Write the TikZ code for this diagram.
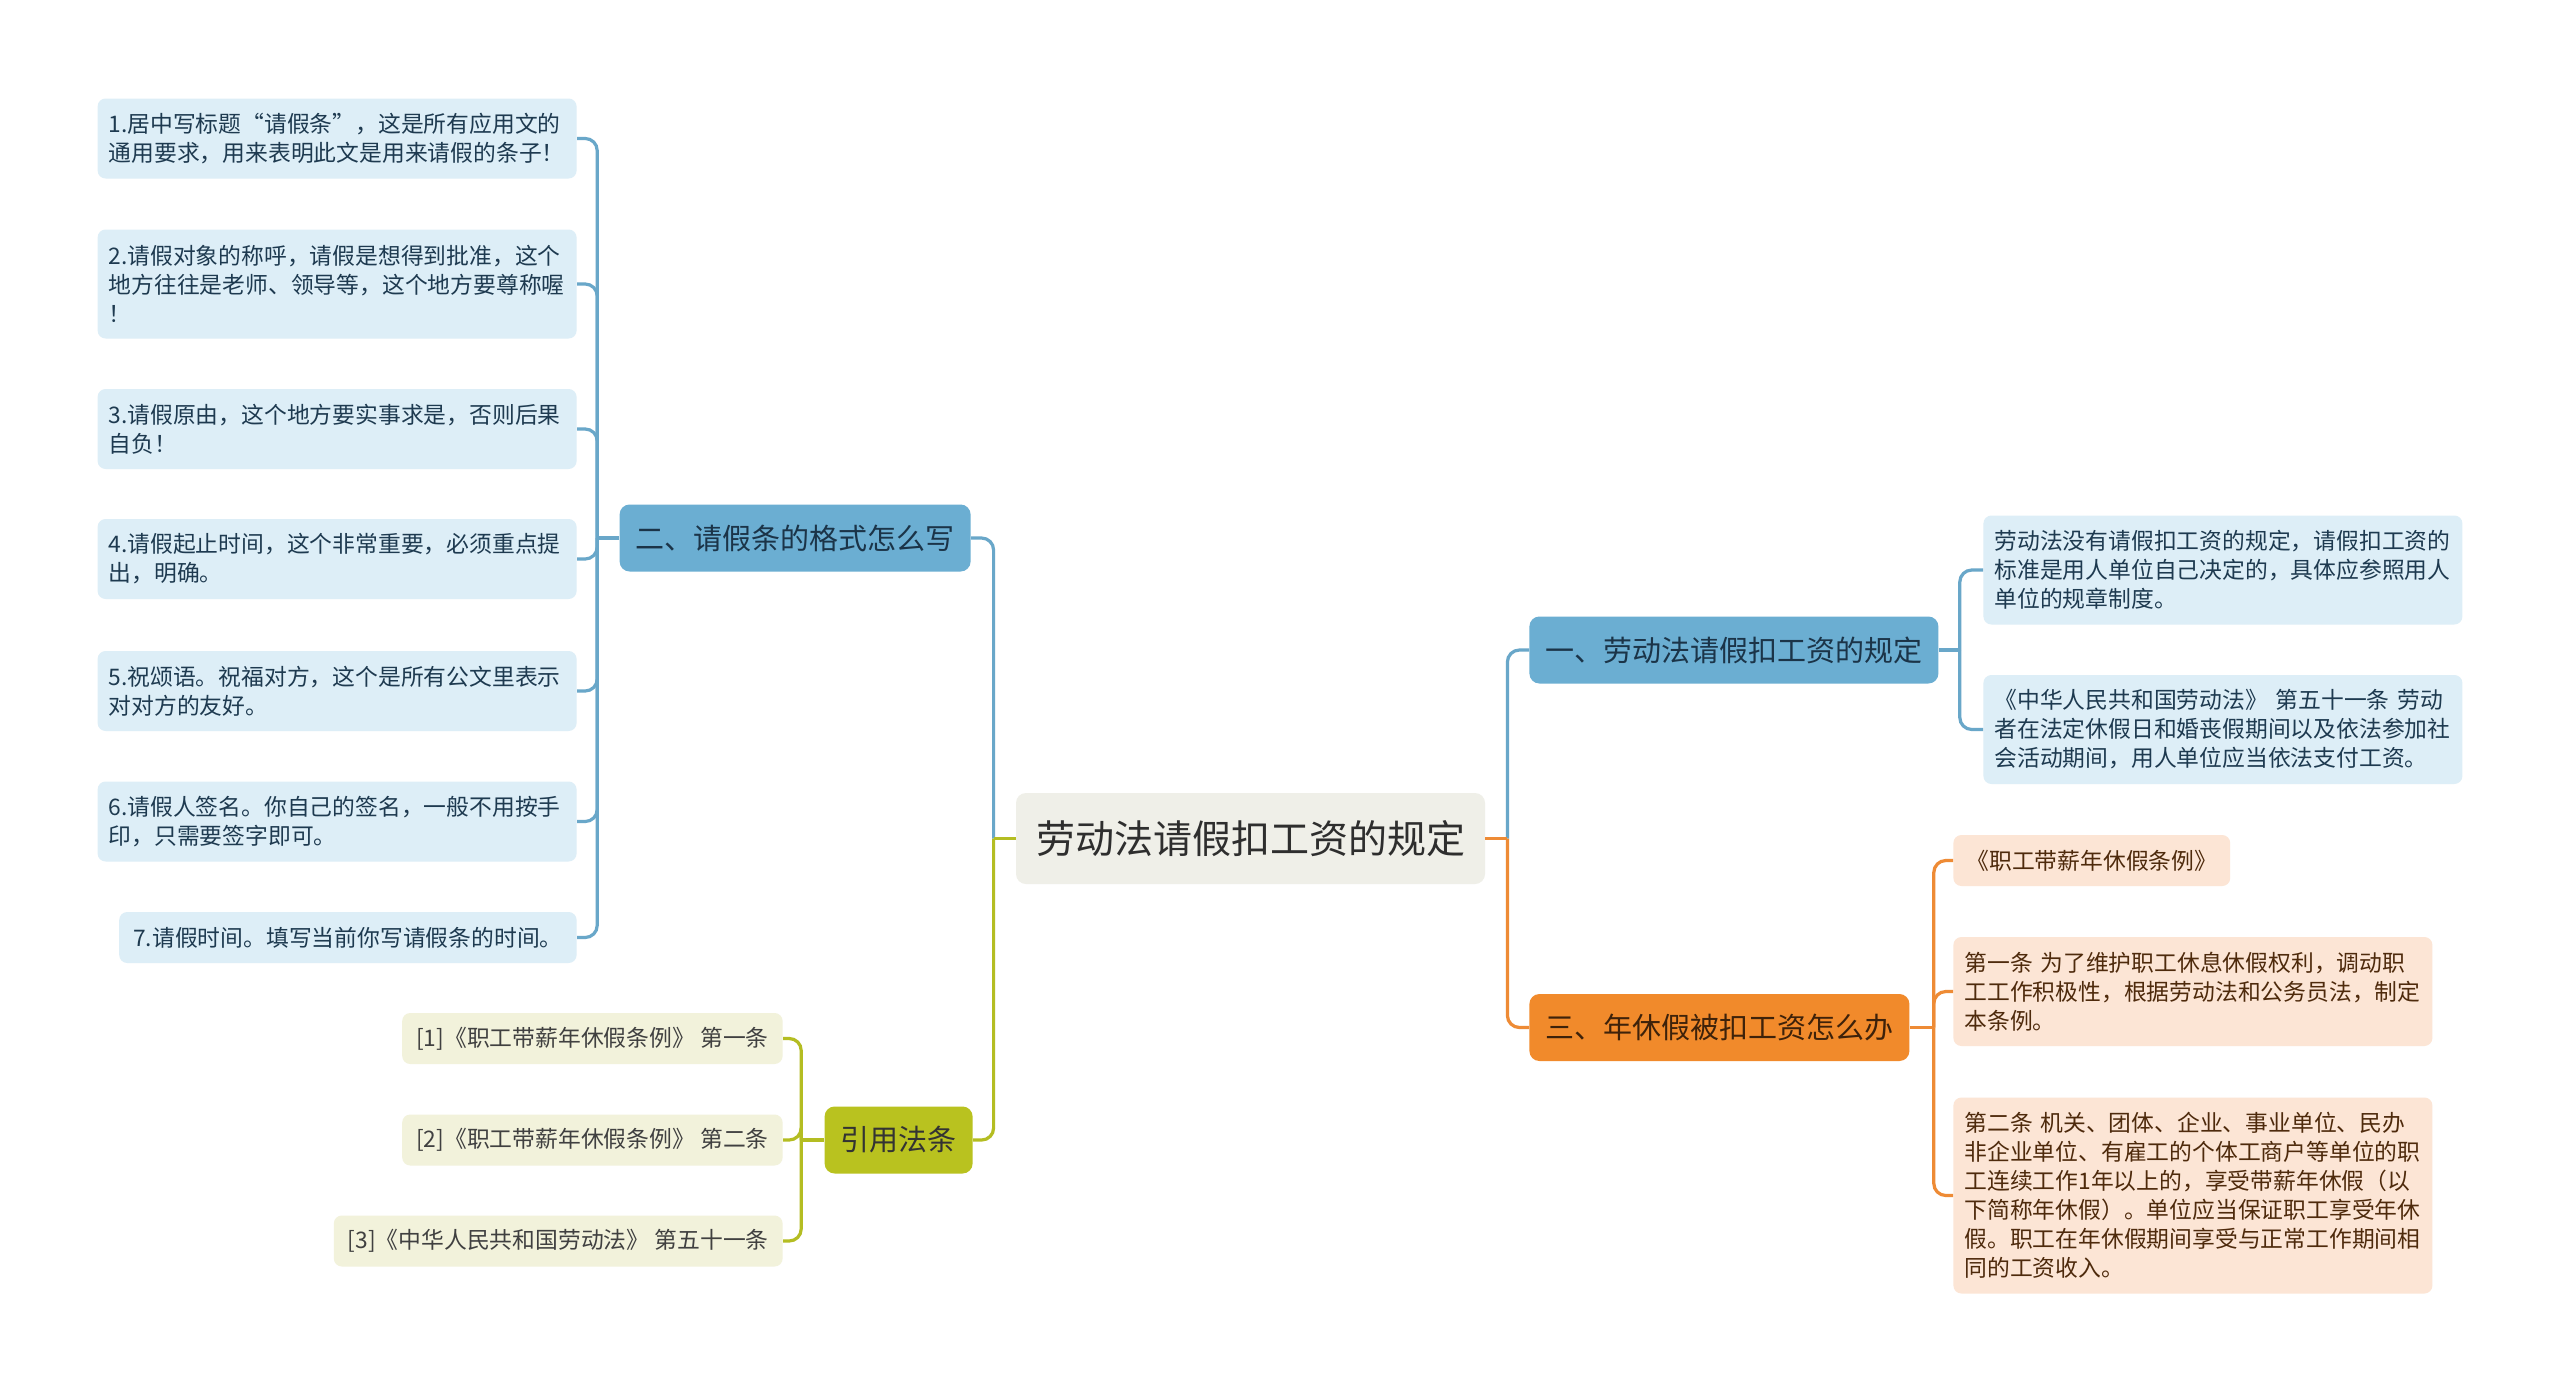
\documentclass[tikz,border=0pt]{standalone}
\usepackage{fontspec}
\setmainfont{Noto Sans CJK SC}
\usepackage{xcolor}
\usetikzlibrary{positioning,calc}

\begin{document}
\begin{tikzpicture}[x=0.5pt,y=-0.5pt,
  box/.style={rounded corners=4pt,inner xsep=5.5pt,inner ysep=2pt,
    font=\fontsize{11.4pt}{14.5pt}\selectfont},
  wide/.style={text width=228.5pt,align=left},
  nl/.style={minimum height={#1*14.5pt+11pt}},
  branch/.style={rounded corners=5pt,inner xsep=8pt,minimum height=33.5pt,
    font=\fontsize{14.5pt}{17pt}\selectfont},
  link/.style={line width=1.6pt,rounded corners=6pt}]
  \definecolor{blbg}{HTML}{DDEEF7}
  \definecolor{bltx}{HTML}{1E3A50}
  \definecolor{blnd}{HTML}{6BAED2}
  \definecolor{blln}{HTML}{69A7C9}
  \definecolor{orbg}{HTML}{FCE5D5}
  \definecolor{ortx}{HTML}{4E2A0C}
  \definecolor{ornd}{HTML}{F18A2B}
  \definecolor{orln}{HTML}{EE8B35}
  \definecolor{grbg}{HTML}{F2F2DB}
  \definecolor{grnd}{HTML}{B9C21F}
  \definecolor{grln}{HTML}{B4BD22}
  \definecolor{rtbg}{HTML}{EFEFE8}
  \useasboundingbox[fill=white] (0,0) rectangle (2560,1393);

  % centre
  \node[rounded corners=5pt,fill=rtbg,text=black!82,inner xsep=10pt,
    minimum height=45.5pt,font=\fontsize{19.5pt}{22pt}\selectfont]
    (root) at (1250.5,838.5) {劳动法请假扣工资的规定};

  % left: format of the note
  \node[branch,fill=blnd,text=bltx!90!black,anchor=east] (n2) at (971,538)
    {二、请假条的格式怎么写};
  \foreach \y/\n/\txt [count=\i] in {
    138.5/2/{1.居中写标题“请假条”，这是所有应用文的\\通用要求，用来表明此文是用来请假的条子！},
    284/3/{2.请假对象的称呼，请假是想得到批准，这个\\地方往往是老师、领导等，这个地方要尊称喔\\！},
    429/2/{3.请假原由，这个地方要实事求是，否则后果\\自负！},
    559/2/{4.请假起止时间，这个非常重要，必须重点提\\出，明确。},
    691/2/{5.祝颂语。祝福对方，这个是所有公文里表示\\对对方的友好。},
    821.5/2/{6.请假人签名。你自己的签名，一般不用按手\\印，只需要签字即可。}} {
    \node[box,wide,nl=\n,fill=blbg,text=bltx,anchor=east] (l\i) at (577,\y) {\txt};
  }
  \node[box,nl=1,fill=blbg,text=bltx,anchor=east,inner xsep=7pt] (l7) at (577,937.5)
    {7.请假时间。填写当前你写请假条的时间。};

  % left: cited articles
  \node[branch,fill=grnd,text=black!80,anchor=east] (n4) at (973,1140) {引用法条};
  \tikzset{refbox/.style={box,nl=1,fill=grbg,text=black!75,anchor=east,inner xsep=7pt}}
  \node[refbox] (r1) at (783,1038.5) {[1]《职工带薪年休假条例》 第一条};
  \node[refbox] (r2) at (783,1140) {[2]《职工带薪年休假条例》 第二条};
  \node[refbox] (r3) at (783,1241) {[3]《中华人民共和国劳动法》 第五十一条};

  % right: rules
  \node[branch,fill=blnd,text=bltx!90!black,anchor=west] (n1) at (1529,650)
    {一、劳动法请假扣工资的规定};
  \node[box,wide,nl=3,fill=blbg,text=bltx,anchor=west] (a1) at (1983,570)
    {劳动法没有请假扣工资的规定，请假扣工资的\\标准是用人单位自己决定的，具体应参照用人\\单位的规章制度。};
  \node[box,wide,nl=3,fill=blbg,text=bltx,anchor=west] (a2) at (1983,729.5)
    {《中华人民共和国劳动法》 第五十一条 劳动\\者在法定休假日和婚丧假期间以及依法参加社\\会活动期间，用人单位应当依法支付工资。};

  % right: annual leave
  \node[branch,fill=ornd,text=ortx!80!black,anchor=west] (n3) at (1529,1027.5)
    {三、年休假被扣工资怎么办};
  \node[box,nl=1,fill=orbg,text=ortx,anchor=west,inner xsep=6.5pt] (c1) at (1953,860.5)
    {《职工带薪年休假条例》};
  \node[box,wide,nl=3,fill=orbg,text=ortx,anchor=west] (c2) at (1953,991.5)
    {第一条 为了维护职工休息休假权利，调动职\\工工作积极性，根据劳动法和公务员法，制定\\本条例。};
  \node[box,wide,nl=6,fill=orbg,text=ortx,anchor=west] (c3) at (1953,1195.5)
    {第二条 机关、团体、企业、事业单位、民办\\非企业单位、有雇工的个体工商户等单位的职\\工连续工作1年以上的，享受带薪年休假（以\\下简称年休假）。单位应当保证职工享受年休\\假。职工在年休假期间享受与正常工作期间相\\同的工资收入。};

  % connectors
  \coordinate (jl) at ($(root.west)+(-22,0)$);
  \coordinate (jr) at ($(root.east)+(22,0)$);
  \draw[link,blln] (jl) |- (n2.east);
  \draw[link,grln] (jl) |- (n4.east);
  \draw[link,grln] (root.west) -- (jl);
  \draw[link,blln] (jr) |- (n1.west);
  \draw[link,orln] (jr) |- (n3.west);
  \draw[link,orln] (root.east) -- (jr);

  \coordinate (j2) at ($(n2.west)+(-22,0)$);
  \draw[link,blln] (n2.west) -- (j2);
  \foreach \i in {1,...,7} \draw[link,blln] (j2) |- (l\i.east);

  \coordinate (j4) at ($(n4.west)+(-23,0)$);
  \draw[link,grln] (n4.west) -- (j4);
  \foreach \i in {1,...,3} \draw[link,grln] (j4) |- (r\i.east);

  \coordinate (j1) at ($(n1.east)+(21,0)$);
  \draw[link,blln] (n1.east) -- (j1);
  \foreach \i in {1,2} \draw[link,blln] (j1) |- (a\i.west);

  \coordinate (j3) at ($(n3.east)+(24,0)$);
  \draw[link,orln] (n3.east) -- (j3);
  \foreach \i in {1,...,3} \draw[link,orln] (j3) |- (c\i.west);
\end{tikzpicture}
\end{document}
